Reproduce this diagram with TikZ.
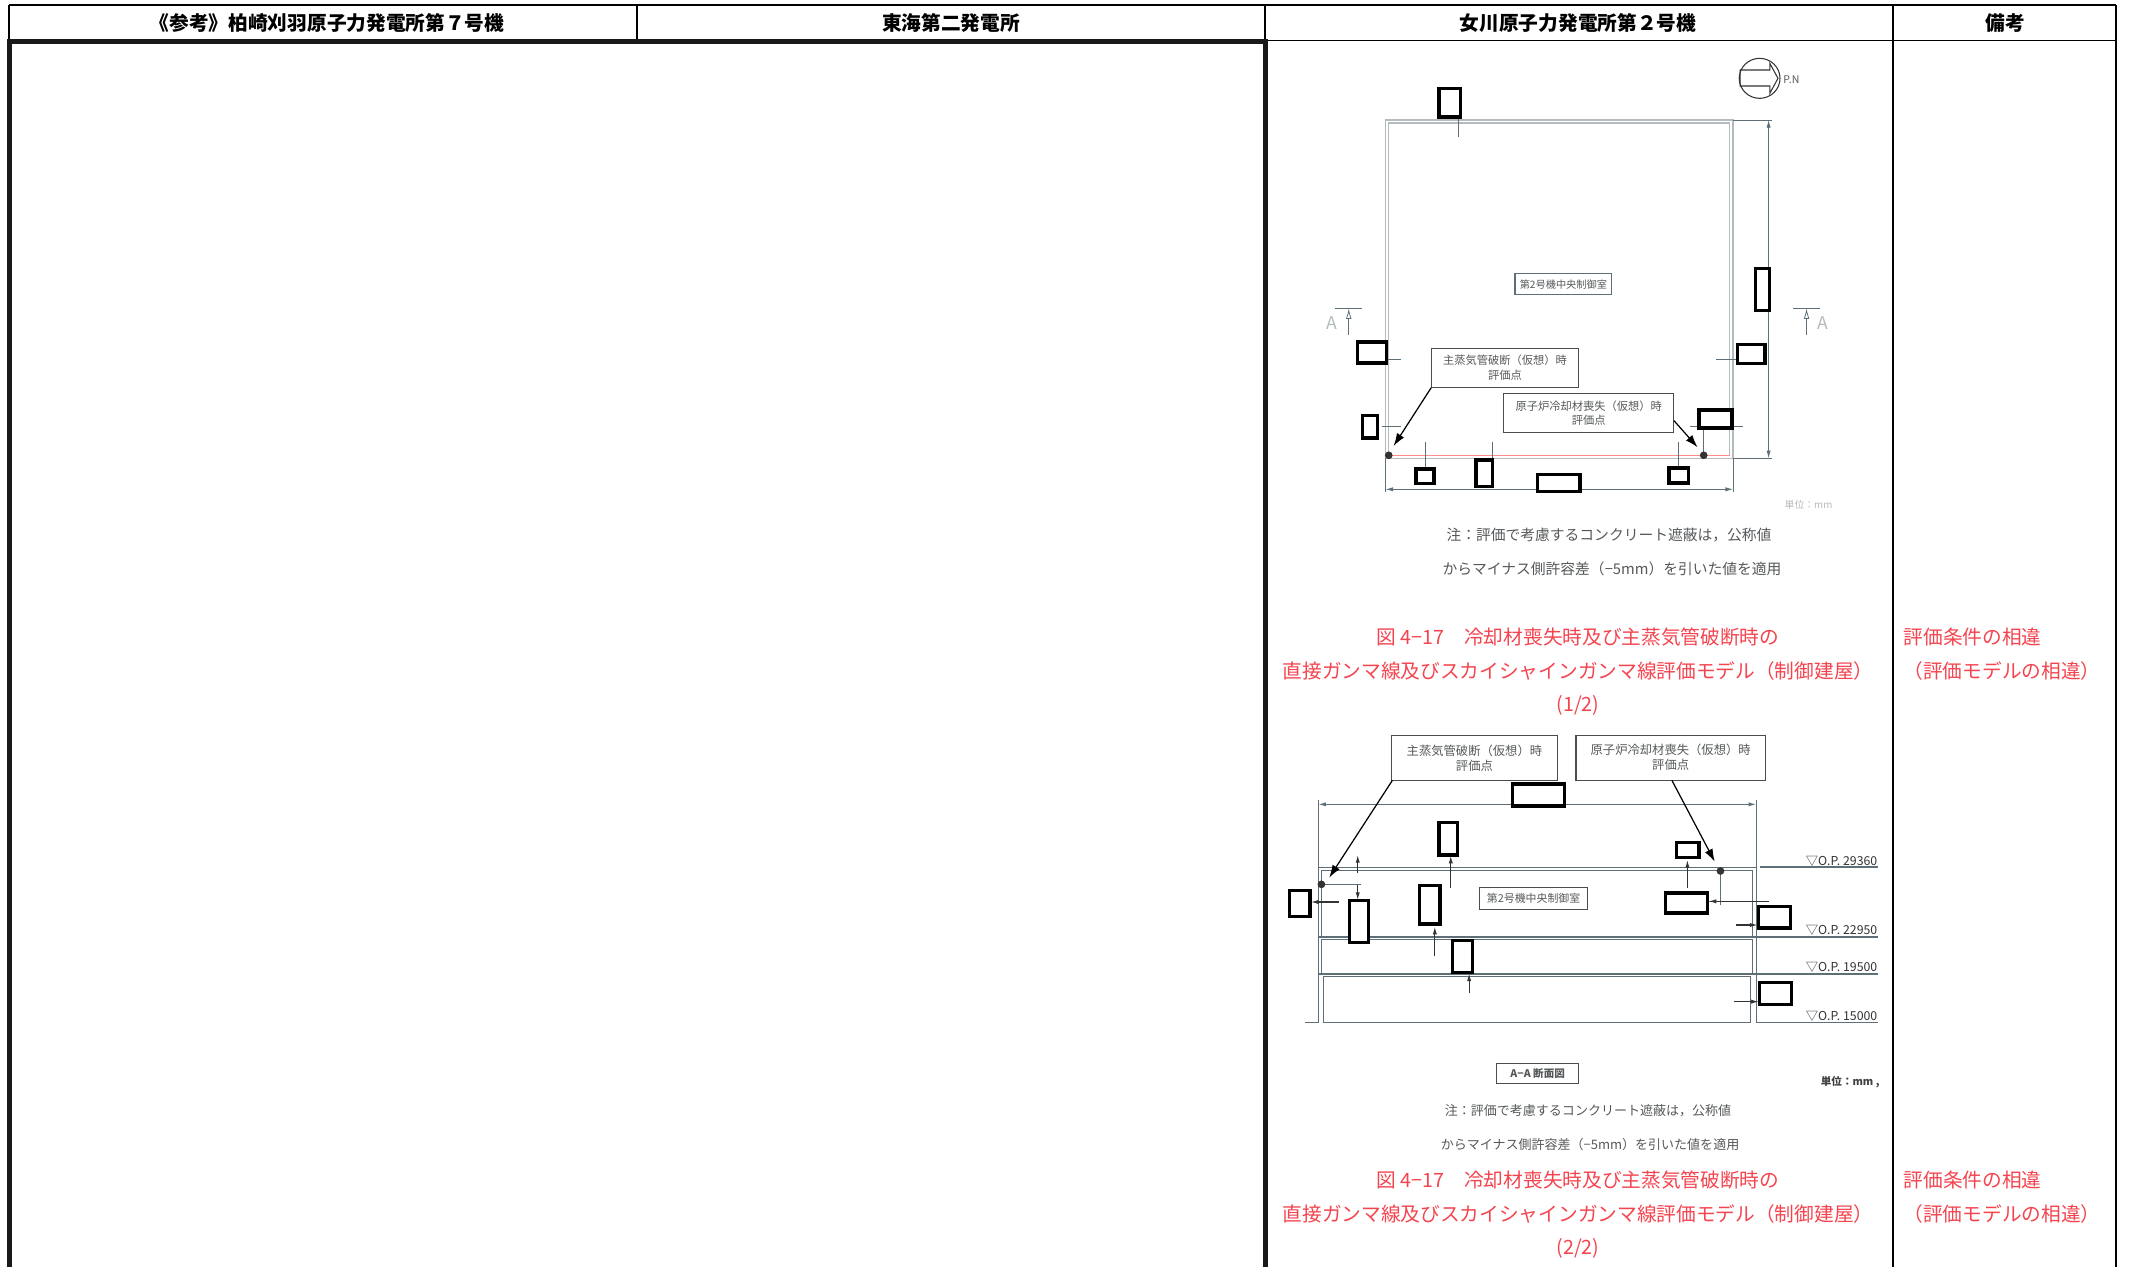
\documentclass[tikz,border=0pt]{standalone}
\usepackage{fontspec}
\usetikzlibrary{arrows.meta}
\setmainfont{Noto Sans CJK JP}
\definecolor{notered}{HTML}{F4444F}
\definecolor{wallgray}{HTML}{B4BABD}
\definecolor{dimblue}{HTML}{5F6F78}
\definecolor{notegray}{HTML}{55585A}
\tikzset{
    headtext/.style={font=\fontsize{5.6}{6}\selectfont\bfseries, text=black},
    captiontext/.style={font=\fontsize{5.6}{6}\selectfont, text=notered},
    notetext/.style={font=\fontsize{3.9}{5}\selectfont, text=notegray},
    maskbox/.style={draw=black, line width=0.95pt, fill=white},
    calloutbox/.style={draw=black!70, line width=0.3pt, inner sep=0pt, align=center, text=notegray},
    wallline/.style={draw=wallgray, line width=0.35pt},
    dimline/.style={draw=dimblue, line width=0.22pt},
    dimtip/.style={draw=black!80, line width=0.3pt, -{Latex[length=2.2pt,width=1.2pt]}},
    levelline/.style={draw=dimblue, line width=0.35pt},
    leveltext/.style={font=\fontsize{3.5}{5}\selectfont, text=black!80, anchor=east, inner sep=0pt},
    leader/.style={draw=black, line width=0.35pt, -{Latex[length=3.6pt,width=2.4pt]}},
    evalpoint/.style={circle, fill=black!80, inner sep=0pt, minimum size=2.2pt}
}
\begin{document}
\begin{tikzpicture}[x=0.01cm, y=-0.01cm]

    \useasboundingbox (0,0) rectangle (2130,1266);

    % --- Table frame ---
    \draw[line width=0.4pt] (9,5) -- (2116,5);
    \draw[line width=0.4pt] (9,5) -- (9,41);
    \draw[line width=0.4pt] (1265,40.5) -- (2116,40.5);
    \draw[line width=0.4pt] (637,5) -- (637,41);
    \draw[line width=0.4pt] (1265,5) -- (1265,41);
    \draw[line width=0.4pt] (1893,5) -- (1893,1270);
    \draw[line width=0.4pt] (2116,5) -- (2116,1270);
    % Heavy frame round the two blank columns
    \draw[line width=1.45pt, black!90] (9.5,1280) -- (9.5,41.5) -- (1265.5,41.5) -- (1265.5,1280);

    % --- Header row ---
    \node[headtext] (headkk) at (327,23) {《参考》柏崎刈羽原子力発電所第７号機};
    \node[headtext] (headtk) at (951,23) {東海第二発電所};
    \node[headtext] (headon) at (1578,23) {女川原子力発電所第２号機};
    \node[headtext] (headrm) at (2005,23) {備考};

    % --- Plan view (crop units: 2.45 across, 3 down, to the pixel) ---
    \begin{scope}[shift={(1270,30)}, xscale=0.408, yscale=0.3333]
        % Walls
        \draw[wallline] (283,270) rectangle (1135,1285);
        \draw[wallline] (291,279) rectangle (1127,1277);
        \draw[draw=red!45, line width=0.2pt] (291,1277) -- (1127,1277);

        % Dimension lines
        \draw[dimline] (1135,270) -- (1230,270);
        \draw[dimline] (1135,1285) -- (1230,1285);
        \draw[dimline, {Latex[length=2.2pt,width=1.2pt]}-{Latex[length=2.2pt,width=1.2pt]}] (1222,270) -- (1222,1285);
        \draw[dimline] (283,1285) -- (283,1385);
        \draw[dimline] (1135,1285) -- (1135,1385);
        \draw[dimline, {Latex[length=2.2pt,width=1.2pt]}-{Latex[length=2.2pt,width=1.2pt]}] (283,1378) -- (1135,1378);
        \foreach \xa/\ya/\xb/\yb in {461/261/461/322, 285/988/322/988, 1092/988/1145/988,
            275/1189/322/1189, 1030/1189/1160/1189, 1063/1190/1063/1277,
            380/1235/380/1317, 545/1235/545/1290, 1002/1235/1002/1314}
            \draw[dimline] (\xa,\ya) -- (\xb,\yb);

        % Section marks
        \draw[dimline] (160,835) -- (226,835);
        \draw[dimline, -{Latex[length=3pt,width=1.6pt,open]}] (193,915) -- (193,835);
        \node[text=wallgray, font=\fontsize{5}{6}\selectfont, inner sep=0pt] (markal) at (151,880) {A};
        \draw[dimline] (1283,835) -- (1347,835);
        \draw[dimline, -{Latex[length=3pt,width=1.6pt,open]}] (1315,915) -- (1315,835);
        \node[text=wallgray, font=\fontsize{5}{6}\selectfont, inner sep=0pt] (markar) at (1354,880) {A};

        % North mark
        \draw[line width=0.3pt, black!80] (1200,145) ellipse (50 and 60);
        \draw[line width=0.3pt, black!80] (1152,120) -- (1225,120) -- (1225,100) -- (1245,145)
            -- (1225,190) -- (1225,168) -- (1152,168) -- cycle;
        \node[notetext, font=\fontsize{3}{4}\selectfont, inner sep=0pt] (northpn) at (1278,148) {P.N};

        % Labels
        \node[calloutbox, minimum width=9.67mm, minimum height=2.07mm,
            draw=dimblue, font=\fontsize{2.9}{4}\selectfont] (roomup) at (719,763) {第2号機中央制御室};
        \node[calloutbox, minimum width=14.65mm, minimum height=3.9mm,
            font=\fontsize{3.2}{4.07}\selectfont] (mslup) at (576,1013) {主蒸気管破断（仮想）時\\評価点};
        \node[calloutbox, minimum width=16.94mm, minimum height=3.9mm,
            font=\fontsize{3.2}{4.07}\selectfont] (locaup) at (781,1150) {原子炉冷却材喪失（仮想）時\\評価点};

        % Evaluation points
        \node[evalpoint] (ptmslup) at (291,1276) {};
        \node[evalpoint] (ptlocaup) at (1063,1276) {};
        \coordinate (tipmslup) at (303,1248);
        \coordinate (tiplocaup) at (1048,1252);
        \draw[leader] (mslup.south west) -- (tipmslup);
        \draw[leader] (990,1172) -- (tiplocaup);

        % Blanked values
        \foreach \xa/\ya/\xb/\yb in {414/175/467/261, 1190/716/1224/842, 215/936/285/999,
            1145/943/1213/1001, 226/1157/264/1224, 1051/1140/1132/1194, 358/1317/402/1360,
            505/1290/545/1370, 655/1333/760/1385, 978/1314/1026/1359}
            \draw[maskbox] (\xa,\ya) rectangle (\xb,\yb);

        \node[text=wallgray, font=\fontsize{2.8}{4}\selectfont, inner sep=0pt] (unitup) at (1320,1425) {単位：mm};
    \end{scope}

    % --- Section view A-A ---
    \begin{scope}[shift={(1270,720)}, xscale=0.408, yscale=0.3333]
        % Walls and floors
        \draw[levelline] (85,907) -- (118,907) -- (118,240);
        \draw[levelline] (1192,240) -- (1192,907) -- (1490,907);
        \draw[levelline] (118,443) -- (1192,443);
        \draw[levelline] (1200,441) -- (1490,441);
        \draw[levelline] (118,651) -- (1490,651);
        \draw[levelline] (118,762) -- (1490,762);
        \draw[levelline] (126,452) rectangle (1183,649);
        \draw[levelline] (126,659) rectangle (1183,760);
        \draw[levelline] (132,770) rectangle (1177,907);

        % Dimension lines
        \draw[dimline, line width=0.35pt, {Latex[length=2.2pt,width=1.2pt]}-{Latex[length=2.2pt,width=1.2pt]}] (118,253) -- (1192,253);
        \foreach \xa/\ya/\xb/\yb in {135/494/222/494, 1104/453/1104/555, 1075/544/1223/544}
            \draw[dimline, line width=0.35pt] (\xa,\ya) -- (\xb,\yb);
        % Small tips towards the blanked values
        \foreach \xa/\ya/\xb/\yb in {215/460/215/405, 215/494/215/540, 443/503/443/407,
            1023/503/1023/420, 404/708/404/620, 488/820/488/760, 168/546/100/546,
            1142/615/1195/615, 1137/845/1198/845, 1223/544/1075/544}
            \draw[dimtip] (\xa,\ya) -- (\xb,\yb);

        % Levels
        \node[leveltext] (lvla) at (1490,425) {▽O.P. 29360};
        \node[leveltext] (lvlb) at (1490,632) {▽O.P. 22950};
        \node[leveltext] (lvlc) at (1490,743) {▽O.P. 19500};
        \node[leveltext] (lvld) at (1490,888) {▽O.P. 15000};

        % Labels
        \node[calloutbox, minimum width=10.85mm, minimum height=2.2mm,
            font=\fontsize{3.1}{4}\selectfont] (roomdn) at (646,536) {第2号機中央制御室};
        \node[calloutbox, minimum width=16.65mm, minimum height=4.47mm,
            font=\fontsize{3.5}{4.26}\selectfont] (msldn) at (501,114) {主蒸気管破断（仮想）時\\評価点};
        \node[calloutbox, minimum width=18.93mm, minimum height=4.5mm,
            font=\fontsize{3.5}{4.26}\selectfont] (locadn) at (982,113) {原子炉冷却材喪失（仮想）時\\評価点};
        \node[calloutbox, minimum width=8.16mm, minimum height=1.97mm,
            font=\fontsize{3}{4}\selectfont\bfseries] (sectaa) at (656,1061) {A−A 断面図};

        % Evaluation points
        \node[evalpoint] (ptmsldn) at (126,493) {};
        \node[evalpoint] (ptlocadn) at (1104,453) {};
        \coordinate (tipmsldn) at (145,473);
        \coordinate (tiplocadn) at (1090,425);
        \draw[leader] (300,181) -- (tipmsldn);
        \draw[leader] (985,181) -- (tiplocadn);

        % Blanked values
        \foreach \xa/\ya/\xb/\yb in {595/192/722/258, 414/307/460/405, 997/367/1051/412,
            47/512/98/589, 195/542/241/667, 366/497/417/612, 970/519/1073/579,
            1197/559/1275/624, 448/661/497/757, 1200/788/1278/853}
            \draw[maskbox] (\xa,\ya) rectangle (\xb,\yb);

        \node[font=\fontsize{3}{4}\selectfont\bfseries, text=black!75, inner sep=0pt] (unitdn) at (1422,1088) {単位：mm ,};
    \end{scope}

    % --- Notes ---
    \node[notetext, font=\fontsize{4.2}{5}\selectfont] (noteupa) at (1609,535) {注：評価で考慮するコンクリート遮蔽は，公称値};
    \node[notetext, font=\fontsize{4.2}{5}\selectfont] (noteupb) at (1612,569) {からマイナス側許容差（−5mm）を引いた値を適用};
    \node[notetext, font=\fontsize{3.7}{5}\selectfont] (notedna) at (1588,1111) {注：評価で考慮するコンクリート遮蔽は，公称値};
    \node[notetext, font=\fontsize{3.7}{5}\selectfont] (notednb) at (1590,1145) {からマイナス側許容差（−5mm）を引いた値を適用};

    % --- Captions ---
    \node[captiontext] (capupa) at (1578,637) {図 4−17　冷却材喪失時及び主蒸気管破断時の};
    \node[captiontext] (capupb) at (1578,671) {直接ガンマ線及びスカイシャインガンマ線評価モデル（制御建屋）};
    \node[captiontext] (capupc) at (1578,705) {(1/2)};
    \node[captiontext] (capdna) at (1578,1180) {図 4−17　冷却材喪失時及び主蒸気管破断時の};
    \node[captiontext] (capdnb) at (1578,1214) {直接ガンマ線及びスカイシャインガンマ線評価モデル（制御建屋）};
    \node[captiontext] (capdnc) at (1578,1248) {(2/2)};

    % --- Remarks ---
    \node[captiontext, anchor=west, inner sep=0pt] (rmkupa) at (1903,637) {評価条件の相違};
    \node[captiontext] (rmkupb) at (2002,671) {（評価モデルの相違）};
    \node[captiontext, anchor=west, inner sep=0pt] (rmkdna) at (1903,1180) {評価条件の相違};
    \node[captiontext] (rmkdnb) at (2002,1214) {（評価モデルの相違）};

\end{tikzpicture}
\end{document}
